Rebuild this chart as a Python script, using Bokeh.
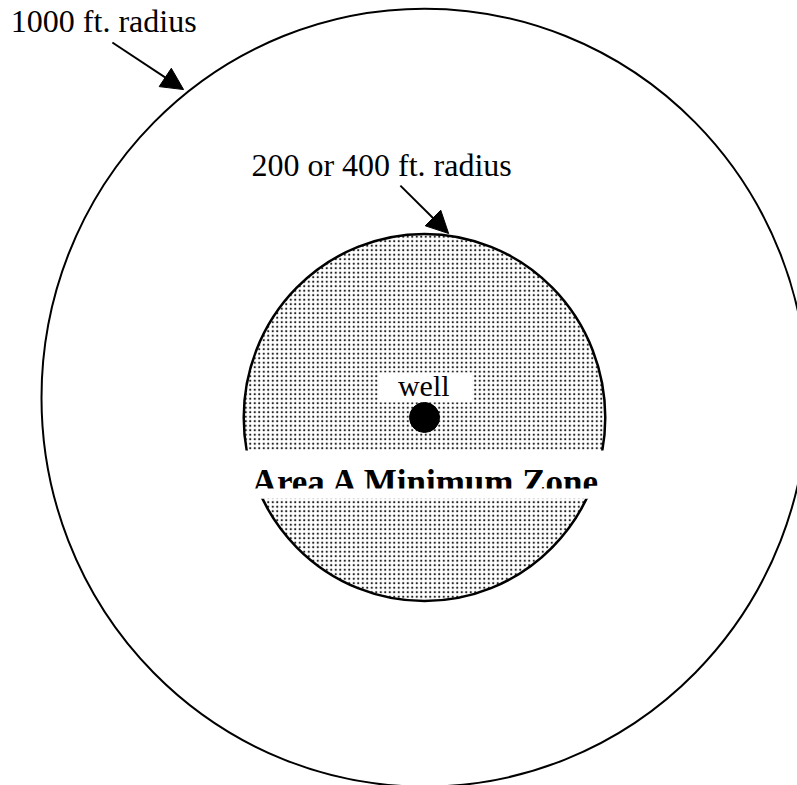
from bokeh.plotting import figure
from bokeh.models import Range1d, Arrow, NormalHead
from bokeh.core.properties import value
from bokeh.embed import file_html
from bokeh.resources import INLINE

# ---- diagram data (feet; the well is at the origin) ----
zone_names = ["1000 ft. radius", "200 or 400 ft. radius"]
outer_radius_ft = 1000
inner_radius_ft = 472
outer_center_ft = (0, 51)
well_xy_ft = (0, 0)
zone_title = "Area A Minimum Zone"
well_label = "well"

# pixel scale of the drawing (px per ft)
SX, SY = 0.383, 0.389
W, H = 797, 785
WELL_PX = (424, 417)

p = figure(width=W, height=H, output_backend="svg", toolbar_location=None,
           x_range=Range1d(-WELL_PX[0] / SX, (W - WELL_PX[0]) / SX),
           y_range=Range1d(-(H - WELL_PX[1]) / SY, WELL_PX[1] / SY),
           min_border=0, outline_line_color=None, background_fill_color="white",
           border_fill_color="white")
p.axis.visible = False
p.grid.visible = False

# outer 1000 ft circle
p.ellipse(x=[outer_center_ft[0]], y=[outer_center_ft[1]],
          width=[2 * outer_radius_ft], height=[2 * outer_radius_ft],
          fill_color=None, line_color="black", line_width=2)

# inner stippled zone
p.ellipse(x=[well_xy_ft[0]], y=[well_xy_ft[1]],
          width=[2 * inner_radius_ft], height=[2 * inner_radius_ft],
          fill_color="white", line_color="black", line_width=2.5,
          hatch_pattern="dot", hatch_color="#222222", hatch_scale=4.5, hatch_weight=2.5)

# white label box for "well"
p.quad(left=[-120], right=[125], top=[116], bottom=[39],
       fill_color="white", line_color=None)
# white band for zone title
p.quad(left=[-490], right=[495], top=[-85], bottom=[-208],
       fill_color="white", line_color=None)

# well marker
p.scatter(x=[well_xy_ft[0]], y=[well_xy_ft[1]], size=30, marker="circle",
          fill_color="black", line_color="black")

serif = value("Liberation Serif")
p.text(x=[-2], y=[83], text=[well_label], text_align="center",
       text_baseline="alphabetic", text_font=serif,
       text_font_size="30px", text_color="black")
p.text(x=[6], y=[-167], text=[zone_title], text_align="center",
       text_baseline="alphabetic", text_font=serif,
       text_font_style="bold", text_font_size="35px", text_color="black")
# clip the bottom of the zone title
p.quad(left=[-490], right=[495], top=[-182.5], bottom=[-208],
       fill_color="white", line_color=None)

p.text(x=[-1080, -452], y=[1018, 650], text=zone_names, text_align="left",
       text_baseline="alphabetic", text_font=serif,
       text_font_size="32px", text_color="black")

p.add_layout(Arrow(x_start=-815, y_start=964, x_end=-629, y_end=843,
                   line_color="black", line_width=2,
                   end=NormalHead(size=22, fill_color="black", line_color="black")))
p.add_layout(Arrow(x_start=-63, y_start=596, x_end=63, y_end=473,
                   line_color="black", line_width=2,
                   end=NormalHead(size=22, fill_color="black", line_color="black")))

open("out.html", "w").write(file_html(p, INLINE))
